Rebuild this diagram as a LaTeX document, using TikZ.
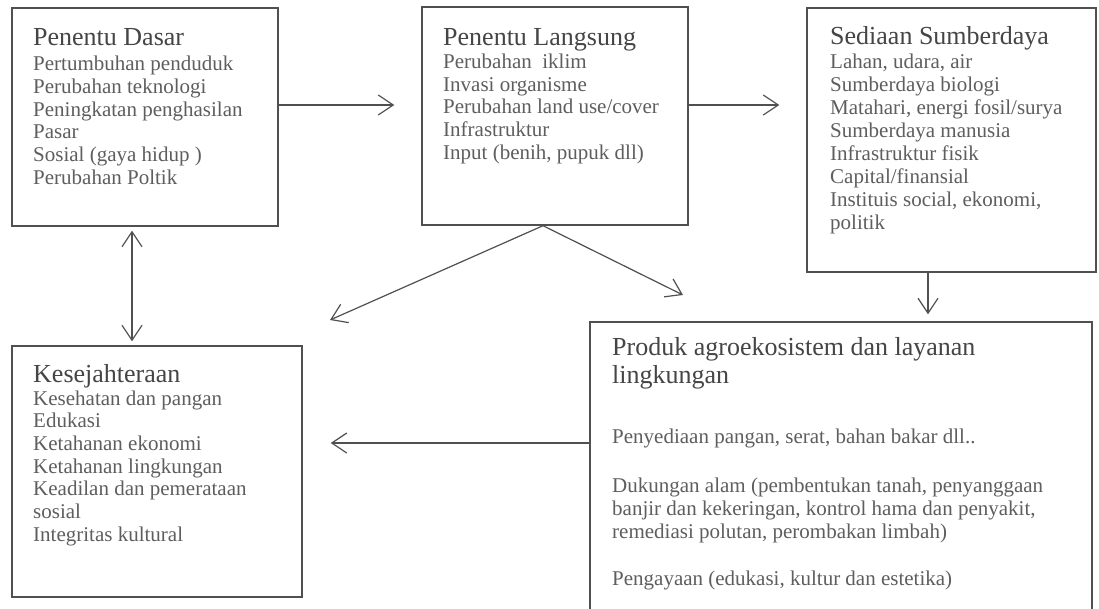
\documentclass[tikz,border=0pt]{standalone}
\usepackage{fontspec}
\setmainfont{Liberation Serif}
\usetikzlibrary{arrows.meta}
\definecolor{linec}{HTML}{505050}
\definecolor{textc}{HTML}{5E5E5E}
\definecolor{titlec}{HTML}{454545}
\newcommand\bodyfnt{\fontsize{21}{22.7}\selectfont}
\newcommand\titlefnt{\fontsize{26}{28}\selectfont}
\newcommand\lines[1]{\begin{tabular}[t]{@{}l@{}}#1\end{tabular}}
\begin{document}
\begin{tikzpicture}[x=1pt,y=-1pt,
  box/.style={draw=linec, line width=1.4pt, rectangle, inner sep=0pt},
  ttl/.style={anchor=base west, inner sep=0pt, text=titlec, font=\titlefnt},
  bdy/.style={anchor=base west, inner sep=0pt, text=textc, font=\bodyfnt},
  arr/.style={draw=linec, line width=1.2pt, -{Straight Barb[length=15pt,width=20pt]}},
  darr/.style={draw=linec, line width=1.2pt, {Straight Barb[length=15pt,width=20pt]}-{Straight Barb[length=15pt,width=20pt]}}]
\useasboundingbox (0,0) rectangle (1099,608);
\clip (0,0) rectangle (1099,608);
\fill[white] (0,0) rectangle (1099,608);

% boxes
\node[box, minimum width=266pt, minimum height=218pt] (dasar) at (145,117) {};
\node[box, minimum width=266pt, minimum height=218pt] (langsung) at (555,116) {};
\node[box, minimum width=289pt, minimum height=264pt] (sediaan) at (951.5,140) {};
\node[box, minimum width=290pt, minimum height=251pt] (sejahtera) at (157,471.5) {};
\node[box, minimum width=502pt, minimum height=330pt] (produk) at (841,487) {};

% texts
\node[ttl] (t1) at (33,45) {Penentu Dasar};
\node[bdy] (b1) at (33,70.7) {\lines{Pertumbuhan penduduk\\ Perubahan teknologi\\ Peningkatan penghasilan\\ Pasar\\ Sosial (gaya hidup )\\ Perubahan Poltik}};

\node[ttl] (t2) at (443,45) {Penentu Langsung};
\node[bdy] (b2) at (443,68.3) {\lines{Perubahan\ \ iklim\\ Invasi organisme\\ Perubahan land use/cover\\ Infrastruktur\\ Input (benih, pupuk dll)}};

\node[ttl] (t3) at (830,44) {Sediaan Sumberdaya};
\node[bdy, font=\fontsize{21}{23}\selectfont] (b3) at (830,68) {\lines{Lahan, udara, air\\ Sumberdaya biologi\\ Matahari, energi fosil/surya\\ Sumberdaya manusia\\ Infrastruktur fisik\\ Capital/finansial\\ Instituis social, ekonomi,\\ politik}};

\node[ttl] (t4) at (33,382) {Kesejahteraan};
\node[bdy] (b4) at (33,405) {\lines{Kesehatan dan pangan\\ Edukasi\\ Ketahanan ekonomi\\ Ketahanan lingkungan\\ Keadilan dan pemerataan\\ sosial\\ Integritas kultural}};

\node[ttl] (t5) at (612,355) {\lines{Produk agroekosistem dan layanan\\ lingkungan}};
\node[bdy] (b5a) at (612,443) {Penyediaan pangan, serat, bahan bakar dll..};
\node[bdy, font=\fontsize{21}{23}\selectfont] (b5b) at (612,492) {\lines{Dukungan alam (pembentukan tanah, penyanggaan\\ banjir dan kekeringan, kontrol hama dan penyakit,\\ remediasi polutan, perombakan limbah)}};
\node[bdy] (b5c) at (612,585) {Pengayaan (edukasi, kultur dan estetika)};

% connectors
\coordinate (tipL) at (330,320);
\coordinate (tipR) at (683,295);
\draw[arr, shorten >=27pt] (dasar.east |- 0,105) -- (langsung.west |- 0,105);
\draw[arr, shorten >=27pt] (langsung.east |- 0,105) -- (sediaan.west |- 0,105);
\draw[arr, shorten >=7pt] (sediaan.south -| 928,0) -- (produk.north -| 928,0);
\draw[arr, shorten >=28pt] (produk.west |- 0,443) -- (sejahtera.east |- 0,443);
\draw[darr, shorten <=4pt, shorten >=4pt] (dasar.south -| 132,0) -- (sejahtera.north -| 132,0);
\draw[arr] (langsung.south -| 543,0) -- (tipL);
\draw[arr] (langsung.south -| 543,0) -- (tipR);
\end{tikzpicture}
\end{document}
